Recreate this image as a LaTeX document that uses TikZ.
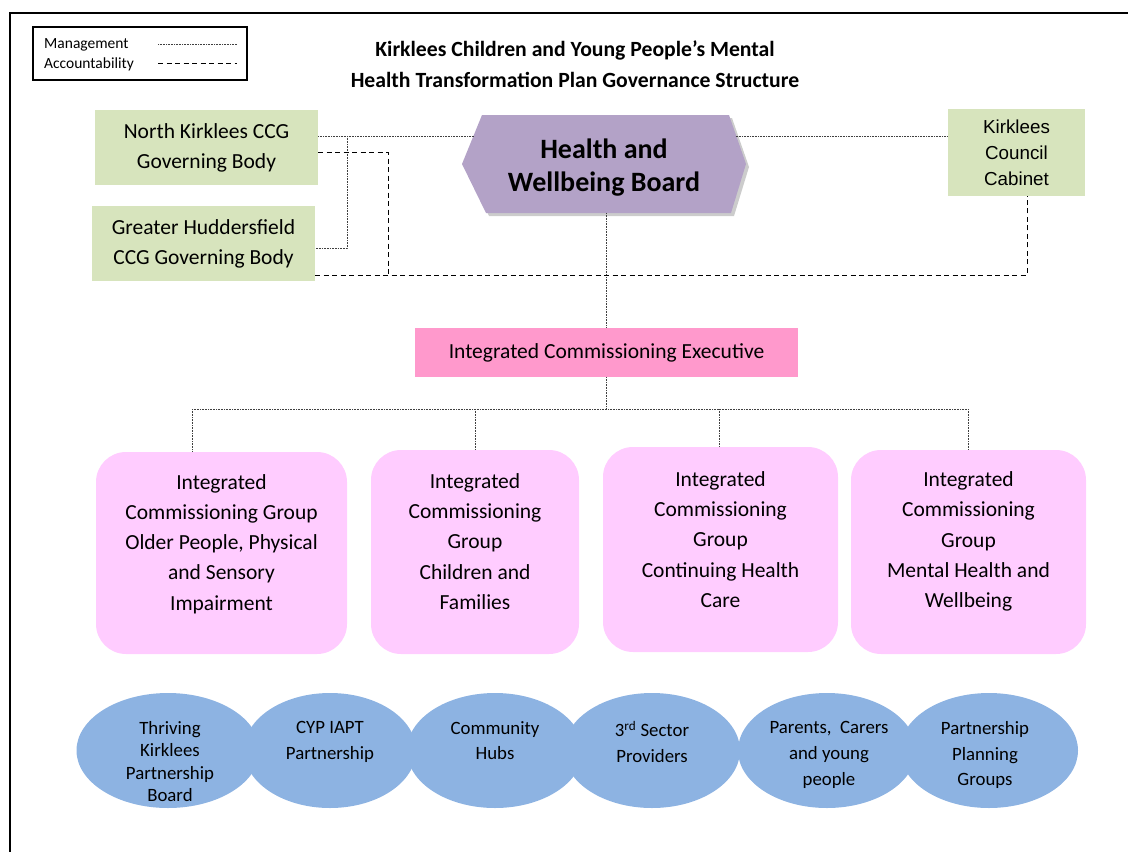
\documentclass[tikz,border=0pt]{standalone}
\usepackage{fontspec}
\setmainfont{Carlito}
\newfontfamily\arialf{Liberation Sans}
\usetikzlibrary{shapes.geometric,calc}
\definecolor{grn}{HTML}{D7E4BD}
\definecolor{lav}{HTML}{B3A2C7}
\definecolor{icepink}{HTML}{FF99CC}
\definecolor{icgpink}{HTML}{FFCCFF}
\definecolor{blu}{HTML}{8DB3E2}
\tikzset{
  greenbox/.style={fill=grn, draw=none, minimum width=#1, inner sep=0pt, align=center,
     font=\fontsize{21.5}{30}\selectfont},
  icgbox/.style={fill=icgpink, draw=none, rounded corners=30pt, inner sep=0pt},
  icgtext/.style={align=center, font=\fontsize{21.5}{30.2}\selectfont, inner sep=0pt},
  ell/.style={ellipse, fill=blu, draw=none, inner sep=0pt},
  elltext/.style={align=center, inner sep=0pt, anchor=north, font=\fontsize{18.8}{25.8}\selectfont},
  mgmt/.style={draw=black!75, line width=0.9pt, dash pattern=on 1pt off 0.6pt},
  acct/.style={draw=black, line width=0.8pt, dash pattern=on 5pt off 3.5pt},
}
\begin{document}
\begin{tikzpicture}[x=1pt,y=-1pt]
\useasboundingbox (0,0) rectangle (1128,852);
% frame
\draw[line width=2.2pt] (10,860) -- (10,13) -- (1135,13);
% legend
\node[draw, line width=2.6pt, minimum width=214pt, minimum height=53pt, inner sep=0pt] (legend) at (140,53.5) {};
\node[anchor=west, inner sep=0pt, font=\fontsize{15.5}{19}\selectfont] (lgm) at (44,45) {Management};
\node[anchor=west, inner sep=0pt, font=\fontsize{15.5}{19}\selectfont] (lga) at (44,64) {Accountability};
\coordinate (lm1) at (158,44); \coordinate (lm2) at (237,44);
\coordinate (la1) at (158,63.5); \coordinate (la2) at (237,63.5);
\draw[mgmt] (lm1) -- (lm2);
\draw[acct] (la1) -- (la2);
% title
\node[align=center, inner sep=0pt, font=\bfseries\fontsize{21.7}{31}\selectfont] (title) at (575,64.5)
  {Kirklees Children and Young People’s Mental\\Health Transformation Plan Governance Structure};
% top boxes
\node[greenbox=223pt, minimum height=75pt] (nk) at (206.5,147.5) {North Kirklees CCG\\Governing Body};
\node[greenbox=223pt, minimum height=75pt] (gh) at (203.5,243.5) {Greater Huddersfield\\CCG Governing Body};
\node[greenbox=137pt, minimum height=87pt, font=\arialf\fontsize{18.8}{26}\selectfont] (kcc) at (1016.5,152.5) {Kirklees\\Council\\Cabinet};
% hexagon
\fill[black!40, opacity=0.5] (465,167) -- (485,118) -- (732,118) -- (749,167) -- (734,216) -- (489,216) -- cycle;
\fill[lav] (462,164) -- (482,115) -- (729,115) -- (746,164) -- (731,213) -- (486,213) -- cycle;
\node[align=center, inner sep=0pt, font=\bfseries\fontsize{28}{33}\selectfont] (hwb) at (604,167.5) {Health and\\Wellbeing Board};
\coordinate (hexL) at (473.5,136);
\coordinate (hexR) at (735.5,136);
\coordinate (hexB) at (606,213);
% ICE
\node[fill=icepink, minimum width=383pt, minimum height=49pt, inner sep=0pt, font=\fontsize{21.5}{30}\selectfont] (ice) at (606.5,352.5) {Integrated Commissioning Executive};
% ICG boxes
\node[icgbox, minimum width=251pt, minimum height=202pt] (icg1) at (221.5,553) {};
\node[icgbox, minimum width=208pt, minimum height=204pt] (icg2) at (475,552) {};
\node[icgbox, minimum width=235pt, minimum height=205pt] (icg3) at (720.5,549.5) {};
\node[icgbox, minimum width=235pt, minimum height=204pt] (icg4) at (968.5,552) {};
\node[icgtext] (icg1t) at (221.5,544) {Integrated\\Commissioning Group\\Older People, Physical\\and Sensory\\Impairment};
\node[icgtext] (icg2t) at (475,541.5) {Integrated\\Commissioning\\Group\\Children and\\Families};
\node[icgtext] (icg3t) at (720.5,539.5) {Integrated\\Commissioning\\Group\\Continuing Health\\Care};
\node[icgtext] (icg4t) at (968.5,541.5) {Integrated\\Commissioning\\Group\\Mental Health and\\Wellbeing};
% ellipses
\node[ell, minimum width=183pt, minimum height=115pt] (e1) at (168,750.5) {};
\node[ell, minimum width=172pt, minimum height=115pt] (e2) at (330,750.5) {};
\node[ell, minimum width=176pt, minimum height=115pt] (e3) at (495,750.5) {};
\node[ell, minimum width=176pt, minimum height=115pt] (e4) at (652,750.5) {};
\node[ell, minimum width=178pt, minimum height=115pt] (e5) at (827,750.5) {};
\node[ell, minimum width=178pt, minimum height=115pt] (e6) at (989,750.5) {};
\node[elltext, font=\fontsize{18.8}{22.4}\selectfont] (e1t) at (170,721) {Thriving\\Kirklees\\Partnership\\Board};
\node[elltext] (e2t) at (330,721) {CYP IAPT\\Partnership};
\node[elltext] (e3t) at (495,721) {Community\\Hubs};
\node[elltext] (e4t) at (652,721) {3\textsuperscript{rd} Sector\\Providers};
\node[elltext] (e5t) at (829,721) {Parents,\ \ Carers\\and young\\people};
\node[elltext] (e6t) at (985,721) {Partnership\\Planning\\Groups};
% management connectors
\coordinate (j1) at (347,136);
\coordinate (r2) at (0,248);
\draw[mgmt] (nk.east |- j1) -- (hexL);
\draw[mgmt] (j1) |- (gh.east |- r2);
\draw[mgmt] (hexR) -- (kcc.west |- hexR);
\draw[mgmt] (hexB) -- (ice.north -| hexB);
\coordinate (bus) at (606,409);
\coordinate (b1) at (192,409);
\coordinate (b2) at (475,409);
\coordinate (b3) at (719,409);
\coordinate (b4) at (968,409);
\draw[mgmt] (ice.south -| bus) -- (bus);
\draw[mgmt] (b1) -- (b4);
\draw[mgmt] (b1) -- (b1 |- icg1.north);
\draw[mgmt] (b2) -- (b2 |- icg2.north);
\draw[mgmt] (b3) -- (b3 |- icg3.north);
\draw[mgmt] (b4) -- (b4 |- icg4.north);
% accountability connectors
\coordinate (d1) at (388,152);
\coordinate (d2) at (388,275);
\coordinate (d3) at (1027,275);
\draw[acct] (nk.east |- d1) -- (d1) -- (d2);
\draw[acct] (gh.east |- d3) -- (d3) -- (d3 |- kcc.south);
\end{tikzpicture}
\end{document}
